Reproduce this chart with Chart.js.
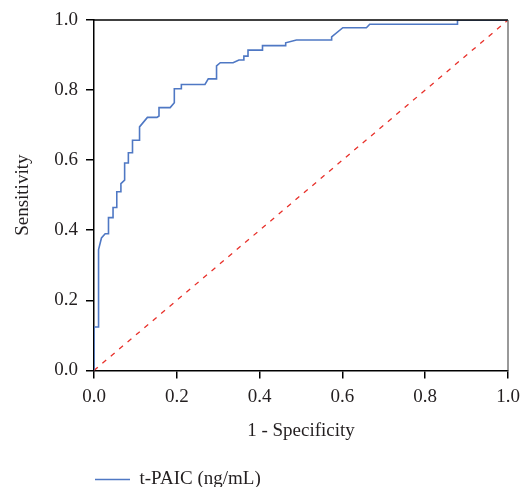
<!DOCTYPE html>
<html lang="en">
<head>
    <meta charset="UTF-8">
    <title>ROC</title>
    <style>
        *{
            margin:0;
            padding:0;
        }
        body{
            background: #fff;
            overflow: hidden;
        }
        /* a bit taller than the window: legend box keeps 10px of dead space under it */
        .wrap{
            width: 521px;
            height: 499px;
            position: relative;
        }
    </style>
</head>
<body>
    <div class="wrap">
        <canvas id="rocChart"></canvas>
    </div>
    <script src="https://cdn.jsdelivr.net/npm/chart.js@4.4.0/dist/chart.umd.min.js"></script>
    <script>
        // ROC curve (1 - specificity, sensitivity)
        const fpr = [0, 0, 0.011, 0.011, 0.018, 0.027, 0.035, 0.035, 0.046, 0.046, 0.055, 0.055,
            0.065, 0.065, 0.074, 0.074, 0.083, 0.083, 0.093, 0.093, 0.11, 0.11, 0.129, 0.152,
            0.157, 0.157, 0.184, 0.194, 0.194, 0.211, 0.211, 0.268, 0.276, 0.296, 0.296, 0.305,
            0.336, 0.35, 0.362, 0.362, 0.372, 0.372, 0.407, 0.407, 0.463, 0.463, 0.489, 0.574,
            0.574, 0.601, 0.658, 0.666, 0.878, 0.878, 1.0];
        const tpr = [0, 0.124, 0.124, 0.345, 0.378, 0.39, 0.39, 0.436, 0.436, 0.465, 0.465, 0.51,
            0.51, 0.533, 0.543, 0.592, 0.592, 0.621, 0.621, 0.657, 0.657, 0.695, 0.722, 0.722,
            0.726, 0.75, 0.75, 0.764, 0.804, 0.804, 0.816, 0.816, 0.832, 0.832, 0.869, 0.878,
            0.878, 0.886, 0.886, 0.897, 0.897, 0.914, 0.914, 0.927, 0.927, 0.935, 0.943, 0.943,
            0.952, 0.978, 0.978, 0.988, 0.988, 1.0, 1.0];
        const refX = [0, 1];
        const refY = [0, 1];
        const tickVals = [0, 0.2, 0.4, 0.6, 0.8, 1.0];

        const seriesName = 't-PAIC (ng/mL)';
        const xTitle = '1 - Specificity';
        const yTitle = 'Sensitivity';

        const serif = "'Liberation Serif', 'Times New Roman', serif";
        const ink = '#231f20';

        const toPts = (xs, ys) => xs.map((x, i) => ({x: x, y: ys[i]}));

        // box around the plot area
        const frame = {
            id: 'frame',
            afterDatasetsDraw(chart){
                const a = chart.chartArea;
                const c = chart.ctx;
                c.save();
                c.strokeStyle = '#000';
                c.lineWidth = 1.5;
                c.beginPath();
                c.moveTo(a.left, a.top);
                c.lineTo(a.right, a.top);
                c.stroke();
                c.strokeStyle = '#555';
                c.lineWidth = 1.2;
                c.beginPath();
                c.moveTo(a.right, a.top);
                c.lineTo(a.right, a.bottom);
                c.stroke();
                c.restore();
            }
        };

        const ctx = document.getElementById('rocChart').getContext('2d');
        const rocChart = new Chart(ctx, {
            type: 'scatter',
            data: {
                datasets: [{
                    label: seriesName,
                    data: toPts(fpr, tpr),
                    showLine: true,
                    borderColor: '#4f78c4',
                    backgroundColor: '#4f78c4',
                    borderWidth: 1.6,
                    pointRadius: 0,
                    order: 1,
                },{
                    label: 'ref',
                    data: toPts(refX, refY),
                    showLine: true,
                    borderColor: '#e8302a',
                    borderWidth: 1.3,
                    borderDash: [5, 6],
                    pointRadius: 0,
                    order: 2,
                }]
            },
            options: {
                responsive: true,
                maintainAspectRatio: false,
                animation: false,
                layout: {
                    padding: {top: 20, right: 13, left: 0, bottom: 0}
                },
                plugins: {
                    tooltip: {enabled: false},
                    legend: {
                        position: 'bottom',
                        align: 'start',
                        fullSize: false,
                        labels: {
                            usePointStyle: true,
                            pointStyle: 'line',
                            pointStyleWidth: 35,
                            padding: 1,
                            color: ink,
                            font: {family: serif, size: 19},
                            filter: item => item.datasetIndex === 0,
                        }
                    }
                },
                scales: {
                    x: {
                        type: 'linear',
                        min: 0,
                        max: 1,
                        afterBuildTicks: s => { s.ticks = tickVals.map(v => ({value: v})); },
                        afterFit: s => { s.paddingRight = 0; },
                        grid: {display: true, drawOnChartArea: false, tickLength: 8, color: '#000', lineWidth: 1.5},
                        border: {color: '#000', width: 1.5},
                        ticks: {
                            color: ink,
                            padding: 7,
                            font: {family: serif, size: 19},
                            callback: v => v.toFixed(1),
                        },
                        title: {
                            display: true,
                            text: xTitle,
                            color: ink,
                            font: {family: serif, size: 19},
                            padding: {top: 4, bottom: 27},
                        }
                    },
                    y: {
                        type: 'linear',
                        min: 0,
                        max: 1,
                        afterBuildTicks: s => { s.ticks = tickVals.map(v => ({value: v})); },
                        afterFit: s => { s.width = 94; },
                        grid: {display: true, drawOnChartArea: false, tickLength: 8, color: '#000', lineWidth: 1.5},
                        border: {color: '#000', width: 1.5},
                        ticks: {
                            color: ink,
                            padding: 8,
                            font: {family: serif, size: 19},
                            callback: v => v.toFixed(1),
                        },
                        title: {
                            display: true,
                            text: yTitle,
                            color: ink,
                            font: {family: serif, size: 19},
                            padding: {top: 12, bottom: 4},
                        }
                    }
                }
            },
            plugins: [frame]
        });
    </script>
</body>
</html>
